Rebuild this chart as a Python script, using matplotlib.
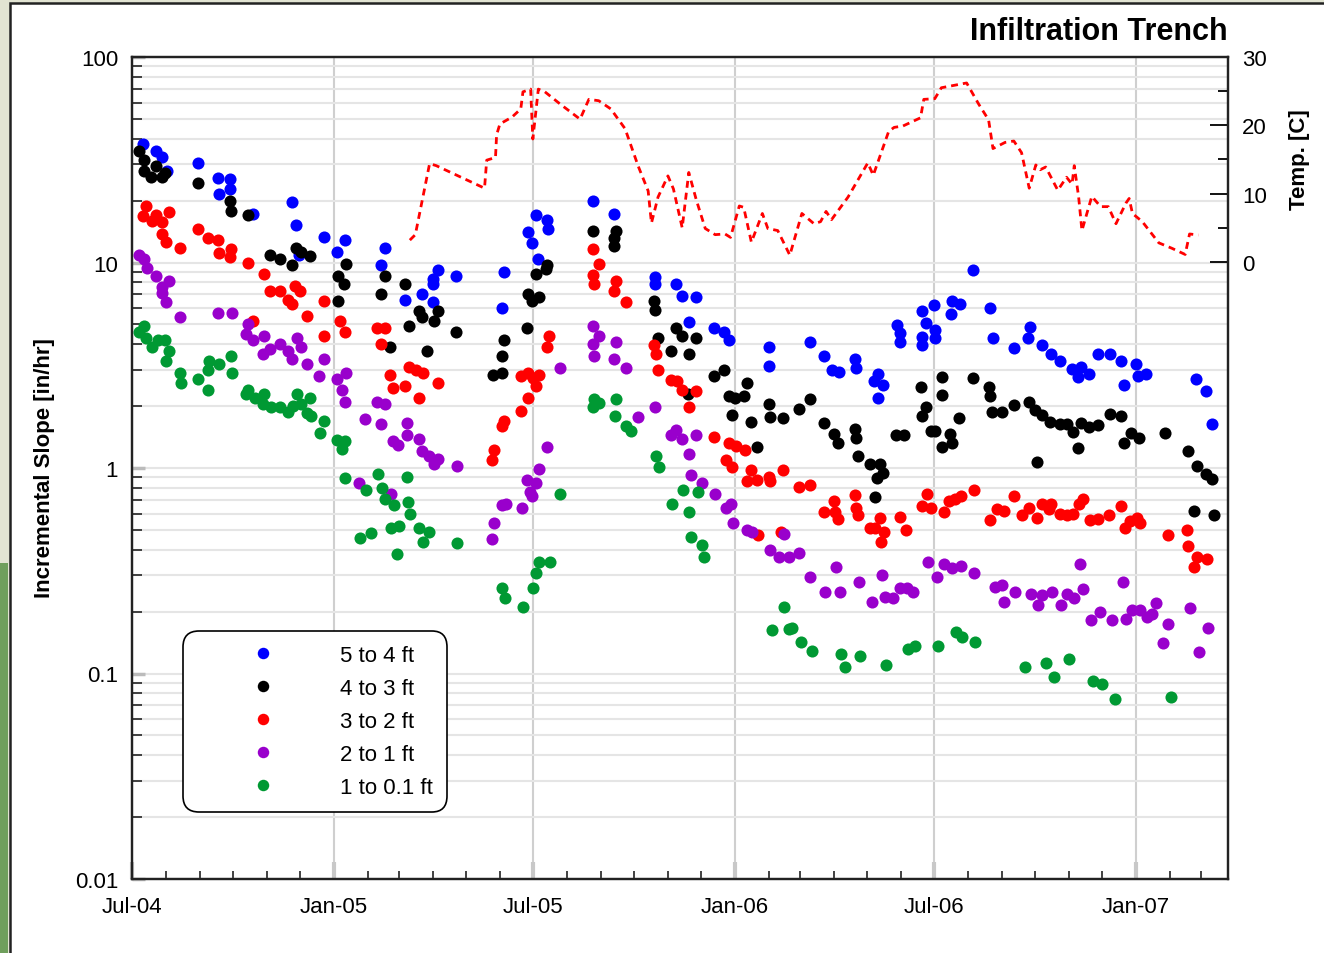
import numpy as np
import matplotlib.pyplot as plt
import matplotlib.dates as mdates
from matplotlib.ticker import LogLocator, FuncFormatter, NullFormatter, FixedLocator
from matplotlib.patches import Rectangle

plt.rcParams['font.family'] = ['Liberation Sans', 'DejaVu Sans']

# dates are given as days since 1 Jul 2004
start = np.datetime64('2004-07-01')
end = np.datetime64('2007-03-26')

# incremental slope [in/hr] per depth interval
blue_day = [10, 22, 27, 32, 60, 78, 89, 89, 79, 110, 146, 149, 175, 152, 194, 187,
            230, 227, 249, 264, 274, 279, 274, 274, 295, 339, 337, 368, 378, 379, 361, 364, 370,
            420, 439, 476, 476, 495, 501, 514, 507, 530, 539, 544, 580, 580,
            617, 630, 637, 644, 658, 659, 679, 676, 684, 679, 697, 699, 699, 719, 730, 723, 719,
            719, 731, 731, 747, 754, 746, 766, 781, 784,
            803, 816, 818, 829, 837, 845, 856, 864, 861, 871, 880, 891, 901, 903, 914, 916, 923,
            969, 978, 983]
blue_val = [37.7, 35, 32.5, 28, 30.5, 25.8, 25.6, 22.9, 21.6, 17.3, 19.6, 15.3, 13.3, 10.9, 12.8, 11.3,
            11.7, 9.7, 6.6, 7.0, 8.3, 9.2, 7.9, 6.4, 8.6, 9.0, 6.0, 17.1, 16.1, 14.6, 14.0, 12.5, 10.4,
            20, 17.3, 8.5, 7.9, 7.9, 6.9, 6.8, 5.15, 4.8, 4.6, 4.2, 3.9, 3.15,
            4.1, 3.5, 3.0, 2.93, 3.4, 3.07, 2.88, 2.65, 2.53, 2.19, 4.96, 4.55, 4.1, 5.8, 6.2, 5.1, 4.35,
            3.96, 4.7, 4.27, 6.5, 6.3, 5.6, 9.2, 6.0, 4.3,
            3.85, 4.3, 4.85, 3.96, 3.6, 3.33, 3.04, 3.1, 2.77, 2.88, 3.57, 3.6, 3.3, 2.53, 3.2, 2.8, 2.88,
            2.7, 2.36, 1.64]

black_day = [6, 11, 11, 17, 22, 27, 30, 60, 89, 90, 106, 126, 135, 146, 149, 154, 162, 188, 193, 188, 195,
             230, 227, 249, 261, 264, 252, 275, 279, 269, 295, 235, 339, 337, 329, 337, 360, 361, 364, 371,
             368, 378, 377,
             420, 441, 439, 439, 475, 476, 479, 495, 501, 514, 491, 507, 506, 530, 539, 544, 549, 557, 560,
             546, 564, 569, 580, 581, 593,
             607, 617, 630, 639, 643, 658, 659, 661, 672, 681, 684, 678, 677, 696, 703, 718, 723, 719, 728,
             731, 738, 738, 738, 745, 747, 753, 766, 780, 781, 783, 792,
             803, 817, 822, 829, 836, 845, 851, 857, 824, 864, 871, 880, 861, 891, 901, 903, 910, 917, 941,
             962, 970, 978, 983, 967, 985]
black_val = [35, 31.6, 27.8, 26, 29.5, 26, 27.4, 24.5, 19.9, 17.8, 17, 10.9, 10.4, 9.7, 11.8, 11.3, 10.7, 8.6,
             7.9, 6.5, 9.8,
             8.6, 7.0, 7.9, 5.8, 5.4, 4.9, 5.2, 5.8, 3.7, 4.6, 3.9, 4.2, 3.5, 2.85, 2.9, 4.8, 7.0, 6.5, 6.8,
             8.8, 9.7, 9.3,
             14.2, 14.2, 13.1, 12, 6.5, 5.9, 4.3, 4.8, 4.4, 4.3, 3.7, 3.6, 2.3, 2.8, 3.0, 2.25, 2.2, 2.25, 2.6,
             1.82, 1.68, 1.26, 2.04, 1.77, 1.75,
             1.94, 2.16, 1.65, 1.46, 1.33, 1.55, 1.4, 1.15, 1.05, 1.05, 0.95, 0.89, 0.72, 1.45, 1.45, 2.47,
             1.97, 1.8, 1.52, 1.52, 2.77, 2.26, 1.27, 1.46, 1.32, 1.76, 2.75, 2.47, 2.23, 1.88, 1.88,
             2.03, 2.09, 1.91, 1.82, 1.68, 1.64, 1.64, 1.5, 1.07, 1.66, 1.59, 1.62, 1.25, 1.84, 1.8, 1.32,
             1.48, 1.4, 1.48, 1.21, 1.02, 0.935, 0.88, 0.62, 0.59]

red_day = [13, 10, 18, 22, 27, 27, 31, 34, 44, 60, 69, 78, 79, 90, 89, 106, 120, 126, 135, 142, 146, 148,
           153, 159, 175, 175, 110, 189, 194,
           223, 230, 227, 235, 238, 249, 252, 259, 265, 261, 279, 328, 330, 337, 339, 354, 361, 354, 361,
           365, 371, 368, 380, 378,
           420, 425, 420, 421, 441, 439, 450, 475, 477, 479, 491, 496, 501, 514, 507, 530, 544, 550, 558,
           541, 546, 564, 560, 569, 580, 581, 593, 570, 591,
           607, 617, 630, 639, 640, 643, 658, 659, 661, 672, 677, 685, 681, 682, 699, 705, 719, 724, 728,
           739, 744, 749, 755, 767, 781, 788, 794,
           803, 810, 817, 824, 829, 837, 835, 845, 851, 857, 862, 866, 872, 880, 890, 901, 904, 909, 915,
           918, 943, 961, 962, 970, 967, 979]
red_val = [18.8, 16.9, 15.9, 17.1, 15.7, 13.7, 12.6, 17.7, 11.7, 14.6, 13.1, 12.9, 11.1, 11.6, 10.6, 10,
           8.8, 7.3, 7.3, 6.6, 6.3, 7.7, 7.3, 5.5, 6.5, 4.4, 5.2, 5.2, 4.6,
           4.8, 4.8, 4.0, 2.85, 2.45, 2.5, 3.1, 3.0, 2.9, 2.2, 2.6, 1.09, 1.23, 1.6, 1.7, 1.9, 2.2, 2.8,
           2.9, 2.75, 2.85, 2.5, 4.4, 3.9,
           11.6, 9.8, 8.7, 7.9, 8.1, 7.3, 6.4, 3.95, 3.6, 3.0, 2.67, 2.64, 2.4, 2.38, 1.99, 1.42, 1.33,
           1.28, 1.23, 1.09, 1.01, 0.98, 0.865, 0.875, 0.9, 0.865, 0.98, 0.47, 0.49,
           0.81, 0.83, 0.61, 0.69, 0.61, 0.565, 0.74, 0.64, 0.59, 0.51, 0.51, 0.49, 0.57, 0.435, 0.58,
           0.5, 0.65, 0.75, 0.64, 0.61, 0.69, 0.71, 0.73, 0.78, 0.56, 0.63, 0.62,
           0.73, 0.59, 0.64, 0.57, 0.67, 0.67, 0.63, 0.6, 0.59, 0.6, 0.67, 0.71, 0.56, 0.565, 0.59, 0.65,
           0.51, 0.55, 0.57, 0.54, 0.47, 0.5, 0.415, 0.37, 0.33, 0.36]

purple_day = [6, 11, 14, 22, 27, 27, 34, 31, 44, 78, 91, 106, 104, 110, 120, 119, 126, 135, 142, 146, 150,
              154, 159, 170, 175, 187, 191, 194, 195,
              212, 223, 230, 227, 207, 236, 238, 242, 250, 250, 261, 264, 270, 275, 279, 296, 330, 328,
              337, 341, 355, 360, 368, 362, 364, 371, 378, 390,
              420, 425, 420, 421, 441, 439, 450, 461, 476, 495, 491, 501, 514, 507, 509, 519, 531, 541,
              545, 547, 560, 565, 581, 589, 594, 598,
              607, 617, 631, 641, 645, 662, 674, 683, 686, 693, 699, 706, 711, 725, 733, 739, 747, 755,
              767, 786, 792, 794,
              804, 819, 825, 829, 838, 846, 851, 858, 866, 863, 873, 881, 892, 902, 905, 911, 918, 924,
              929, 932, 943, 939, 963, 972, 980]
purple_val = [10.9, 10.4, 9.4, 8.6, 7.6, 7.1, 8.1, 6.4, 5.4, 5.7, 5.7, 5.0, 4.5, 4.2, 4.4, 3.6, 3.8, 4.0,
              3.7, 3.4, 4.3, 3.9, 3.2, 2.8, 3.4, 2.7, 2.4, 2.1, 2.9,
              1.73, 2.1, 2.05, 1.63, 0.85, 0.75, 1.36, 1.3, 1.66, 1.45, 1.39, 1.21, 1.14, 1.04, 1.1, 1.02,
              0.54, 0.45, 0.66, 0.67, 0.64, 0.875, 0.85, 0.76, 0.73, 0.99, 1.27, 3.05,
              4.9, 4.4, 4.0, 3.5, 4.1, 3.4, 3.06, 1.77, 1.97, 1.53, 1.45, 1.39, 1.44, 1.17, 0.92, 0.85,
              0.75, 0.64, 0.67, 0.54, 0.5, 0.49, 0.40, 0.37, 0.48, 0.37,
              0.385, 0.295, 0.25, 0.33, 0.25, 0.28, 0.224, 0.3, 0.235, 0.233, 0.26, 0.26, 0.248, 0.35,
              0.295, 0.34, 0.325, 0.335, 0.31, 0.263, 0.27, 0.222,
              0.248, 0.244, 0.216, 0.24, 0.25, 0.216, 0.244, 0.233, 0.257, 0.34, 0.183, 0.2, 0.183, 0.28,
              0.185, 0.203, 0.203, 0.189, 0.194, 0.22, 0.175, 0.141, 0.208, 0.127, 0.167]

green_day = [11, 6, 13, 18, 24, 30, 34, 31, 44, 45, 60, 70, 69, 69, 79, 90, 91, 106, 104, 112, 120, 119,
             127, 135, 142, 147, 150, 154, 162, 159, 163, 175, 171, 187, 194, 191, 194,
             213, 224, 228, 230, 239, 250, 251, 253, 208, 218, 236, 243, 241, 261, 270, 265, 296, 337,
             340, 356, 365, 368, 371, 381, 390,
             421, 425, 420, 441, 440, 450, 454, 477, 480, 502, 515, 492, 507, 509, 519, 521, 594, 583, 598,
             601, 609, 619, 646, 649, 663, 687, 707, 713, 734, 750, 756, 768,
             813, 832, 840, 853, 875, 883, 895, 946]
green_val = [4.9, 4.6, 4.3, 3.9, 4.2, 4.2, 3.7, 3.3, 2.9, 2.6, 2.7, 3.3, 3.0, 2.4, 3.2, 3.5, 2.9, 2.4, 2.3,
             2.2, 2.3, 2.05, 1.97, 1.97, 1.87, 2.0, 2.3, 2.05, 2.2, 1.85, 1.8, 1.7, 1.48, 1.37, 1.36, 1.24,
             0.89,
             0.78, 0.93, 0.8, 0.71, 0.66, 0.9, 0.68, 0.6, 0.455, 0.485, 0.51, 0.52, 0.38, 0.51, 0.49, 0.435,
             0.43, 0.26, 0.234, 0.21, 0.26, 0.31, 0.35, 0.35, 0.75,
             2.16, 2.07, 1.97, 2.16, 1.8, 1.6, 1.51, 1.14, 1.01, 0.78, 0.76, 0.67, 0.61, 0.46, 0.42, 0.37,
             0.21, 0.163, 0.165,
             0.167, 0.143, 0.128, 0.125, 0.108, 0.121, 0.110, 0.131, 0.136, 0.136, 0.159, 0.15, 0.143,
             0.108, 0.112, 0.096, 0.118, 0.092, 0.089, 0.0755, 0.0766]

# temperature [C]
temp_day = [253, 258, 271, 277, 321, 323, 331, 332, 335, 346, 354, 356, 363, 365, 370, 376, 390, 408,
            416, 425, 436, 449, 461, 470, 473, 479, 488, 493, 501, 507, 514, 522, 531, 540, 545, 553,
            557, 564, 574, 579, 588, 599, 610, 621, 627, 632, 637, 652, 670, 675, 689, 694, 702, 718,
            721, 731, 737, 760, 771, 780, 784, 795, 803, 810, 817, 823, 827, 832, 843, 851, 856, 858,
            862, 865, 874, 882, 889, 896, 905, 908, 911, 920, 935, 947, 959, 963, 971]
temp_val = [3.2, 4.0, 14.4, 14.1, 10.8, 14.9, 15.3, 18.6, 20.2, 21.2, 22.4, 24.9, 25.3, 18.0, 25.3, 24.9,
            23.1, 20.9, 23.8, 23.6, 22.4, 19.5, 14.0, 10.4, 5.7, 9.5, 12.6, 10.7, 5.0, 13.1, 9.0, 4.9,
            4.0, 4.1, 3.6, 8.2, 8.0, 2.9, 7.1, 4.9, 4.6, 1.0, 7.1, 5.6, 5.9, 7.4, 6.2, 9.5, 14.5, 12.7,
            19.1, 19.7, 19.9, 21.1, 23.8, 23.9, 25.5, 26.2, 23.1, 20.8, 16.6, 17.5, 17.7, 16.0, 10.8,
            14.2, 13.5, 13.9, 10.5, 12.4, 11.4, 14.1, 9.5, 4.6, 9.6, 8.1, 8.1, 5.6, 8.6, 9.3, 7.1, 5.9,
            2.8, 2.0, 1.1, 4.1, 3.95]

series = [
    ('5 to 4 ft', blue_day, blue_val, '#0000ff'),
    ('4 to 3 ft', black_day, black_val, '#000000'),
    ('3 to 2 ft', red_day, red_val, '#ff0000'),
    ('2 to 1 ft', purple_day, purple_val, '#9900cc'),
    ('1 to 0.1 ft', green_day, green_val, '#009933'),
]


def to_date(days):
    return start + np.array(days).astype('timedelta64[D]')


fig = plt.figure(figsize=(13.24, 9.54), dpi=100, facecolor='#e2e4d2')
# white page with a dark frame, a strip of foliage at the left edge
fig.add_artist(Rectangle((10 / 1324, -0.01), 1.0, 0.01 + 950 / 954, transform=fig.transFigure,
                         facecolor='white', edgecolor='#222222', lw=1.8, zorder=0))
fig.add_artist(Rectangle((0, 0), 8 / 1324, 390 / 954, transform=fig.transFigure,
                         facecolor='#6f9f5c', edgecolor='none', zorder=0))

ax = fig.add_axes([132 / 1324, 74 / 954, 1096 / 1324, 822 / 954])
ax.set_facecolor('white')
ax.set_yscale('log')
ax.set_ylim(0.01, 100)
ax.set_xlim(start, end)
ax.set_axisbelow(True)

for label, d, v, c in series:
    ax.plot(to_date(d), v, 'o', ms=8.7, mec='none', color=c, label=label, zorder=3)

ax.grid(which='both', axis='y', color='#e5e5e5', lw=1.5)
ax.grid(which='major', axis='x', color='#cfcfcf', lw=1.5)

ax.yaxis.set_major_locator(LogLocator(base=10))
ax.yaxis.set_minor_locator(LogLocator(base=10, subs=np.arange(2, 10)))
ax.yaxis.set_minor_formatter(NullFormatter())
ax.yaxis.set_major_formatter(FuncFormatter(lambda v, p: f'{v:g}'))
ax.tick_params(axis='y', which='minor', direction='in', length=7, width=1.3, color='#333333')
ax.tick_params(axis='y', which='major', direction='in', length=9, width=2.5, color='#bbbbbb',
               labelsize=16, pad=10)

ax.xaxis.set_major_locator(mdates.MonthLocator(bymonth=[1, 7]))
ax.xaxis.set_minor_locator(mdates.MonthLocator())
ax.xaxis.set_major_formatter(mdates.DateFormatter('%b-%y'))
ax.tick_params(axis='x', which='minor', direction='in', length=6, width=1.3, color='#333333')
ax.tick_params(axis='x', which='major', direction='in', length=12, width=3, color='#c8c8c8',
               labelsize=16, pad=12)

for sp in ax.spines.values():
    sp.set_color('#222222')
    sp.set_linewidth(1.6)

leg = ax.legend(loc='upper left', bbox_to_anchor=(0.0465, 0.3017), borderaxespad=0, fontsize=16,
                handlelength=5.95, handletextpad=0.5, borderpad=0.63, labelspacing=0.54,
                frameon=True, fancybox=True, edgecolor='black', framealpha=1, numpoints=1,
                markerscale=0.95)
frame = leg.get_frame()
frame.set_boxstyle('round,pad=0,rounding_size=0.7')
frame.set_linewidth(1.2)

# temperature on the right axis, only the top quarter of the plot
ax2 = ax.twinx()
ax2.set_ylim(-90.3, 30)
ax2.plot(to_date(temp_day), temp_val, color='#ff0000', lw=2, ls=(0, (2.5, 1.8)))
ax2.yaxis.set_major_locator(FixedLocator([0, 10, 20, 30]))
ax2.yaxis.set_minor_locator(FixedLocator([5, 15, 25]))
ax2.tick_params(axis='y', which='major', direction='in', length=13, width=1.3, labelsize=16, pad=10)
ax2.tick_params(axis='y', which='minor', direction='in', length=7, width=1.3)
for sp in ax2.spines.values():
    sp.set_color('#222222')
    sp.set_linewidth(1.6)

fig.text(1228 / 1324, 1 - 32 / 954, 'Infiltration Trench', ha='right', va='center',
         fontsize=22, fontweight='bold')
fig.text(45 / 1324, 1 - 468 / 954, 'Incremental Slope [in/hr]', rotation=90, ha='center',
         va='center', fontsize=16, fontweight='bold')
fig.text(1300 / 1324, 1 - 160 / 954, 'Temp. [C]', rotation=90, ha='center', va='center',
         fontsize=16, fontweight='bold')

fig.savefig('out.png', dpi=100, facecolor=fig.get_facecolor())
